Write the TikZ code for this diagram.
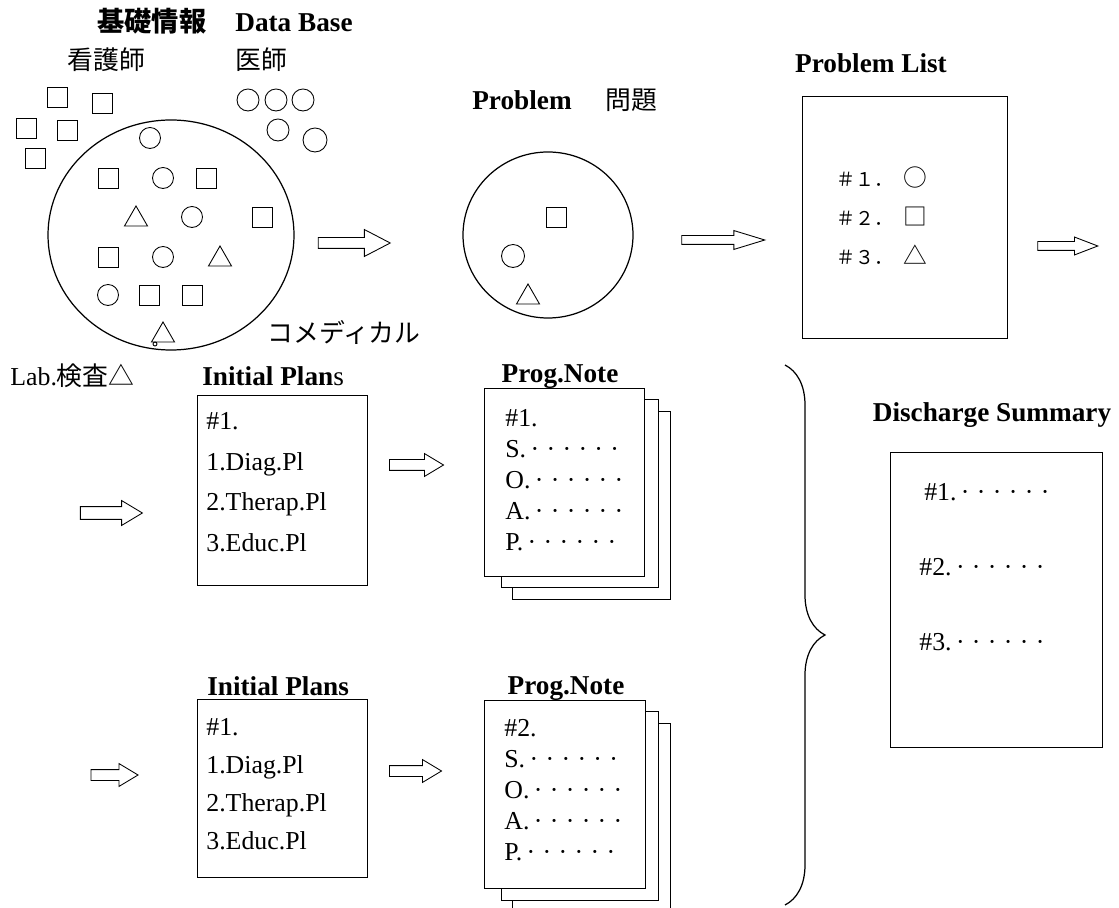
\documentclass[tikz,border=0pt]{standalone}
\usepackage{fontspec}
\setmainfont{Liberation Serif}
\newfontfamily\jp{Noto Sans CJK JP}
\usepackage{tikz}
\usetikzlibrary{positioning, shapes.arrows, decorations.pathreplacing}

\newcommand{\dotrow}{\kern2.5pt·\kern4.2pt·\kern4.2pt·\kern4.2pt·\kern4.2pt·\kern4.2pt·}
\newcommand{\plsym}[1]{\hspace{6pt}{\fontsize{13.5}{13.5}\selectfont #1}}

\begin{document}
\begin{tikzpicture}[
  x=0.02cm, y=-0.02cm,
  hd/.style={font=\bfseries\fontsize{15.5}{18}\selectfont, inner sep=0pt},
  lbl/.style={font=\fontsize{14.7}{18}\selectfont, inner sep=0pt},
  lines/.style={font=\fontsize{14.7}{#1}\selectfont, align=left, inner sep=0pt, anchor=north west},
  sheet/.style={draw, fill=white, line width=0.6pt, inner sep=0pt, anchor=north west},
  fwd/.style={single arrow, draw, line width=0.5pt, inner xsep=0pt, inner ysep=0.1cm,
    minimum width=0.44cm, single arrow head extend=0.12cm, single arrow tip angle=62},
]
  \path[use as bounding box, fill=white] (0,0) rectangle (1119,908);

  \node[hd, anchor=base west] (dbjp) at (97,32) {\jp 基礎情報};
  \node[hd, anchor=base west] (db) at (235,32) {Data Base};
  \node[lbl, anchor=base west] (nurse) at (67,70) {\jp 看護師};
  \node[lbl, anchor=base west] (doctor) at (235,70) {\jp 医師};
  \node[lbl, anchor=base west] (comed) at (267,343) {\jp コメディカル};
  \node[lbl, anchor=base west] (lab) at (10,386) {Lab.{\jp 検査△}};

  \draw[line width=0.7pt] (171,235) ellipse[x radius=123, y radius=115];
  \draw[line width=0.7pt] (548,235) ellipse[x radius=85, y radius=83];
  \begin{scope}[line width=0.5pt]
    \foreach \x/\y in {57/97, 102/103, 26/128, 67/130, 35/158, 108/178, 206/178,
        262/217, 108/257, 149/295, 192/295, 556/217}
      \draw (\x-10,\y-10) rectangle (\x+10,\y+10);
    \foreach \x/\y/\r in {248/100/11, 276/100/11, 303/100/11, 278/130/11, 315/140/12,
        150/138/10.5, 163/178/10.5, 192/217/10.5, 163/257/10.5, 108/295/10.5, 513/256/11.5}
      \draw (\x,\y) circle[radius=\r];
    \foreach \x/\y in {136/217, 220/257, 163/333, 528/295}
      \draw (\x,\y-11) -- (\x+11.5,\y+9) -- (\x-11.5,\y+9) -- cycle;
    \draw (155,344) circle[radius=2];
  \end{scope}

  \node[hd, anchor=base west] (prob) at (472,110) {Problem};
  \node[lbl, anchor=base west] (probjp) at (605,110) {\jp 問題};

  \node[hd, anchor=base] (pltitle) at (871,73) {Problem List};
  \node[sheet, minimum width=4.1cm, minimum height=4.84cm] (plbox) at (802,96) {};
  \node[font=\jp\fontsize{10.8}{22.4}\selectfont, align=left, inner sep=0pt, anchor=north west]
    (plitems) at (836,166) {＃１．\plsym{○}\\＃２．\plsym{□}\\＃３．\plsym{△}};

  \node[fwd, minimum height=1.44cm, minimum width=0.52cm, single arrow head extend=0.16cm,
    single arrow tip angle=55] (ar1) at (349,243) {};
  \node[fwd, minimum height=1.66cm, inner ysep=0.08cm, minimum width=0.36cm,
    single arrow head extend=0.1cm, single arrow tip angle=34] (ar2) at (716,240) {};
  \node[fwd, minimum height=1.2cm, inner ysep=0.08cm, minimum width=0.34cm,
    single arrow head extend=0.09cm, single arrow tip angle=42] (ar3) at (1062,246) {};
  \node[fwd, minimum height=1.24cm, inner ysep=0.12cm, minimum width=0.48cm] (ar4) at (106,513) {};
  \node[fwd, minimum height=1.08cm] (ar5) at (412,465) {};
  \node[fwd, minimum height=0.94cm] (ar6) at (110,775) {};
  \node[fwd, minimum height=1.04cm] (ar7) at (411,771) {};

  \node[hd, anchor=base west] (ip1title) at (202,386) {Initial Plan{\mdseries s}};
  \node[sheet, minimum width=3.4cm, minimum height=3.8cm] (ip1) at (197,395) {};
  \node[lines=23.2] (ip1txt) at (206,412) {\#1.\\1.Diag.Pl\\2.Therap.Pl\\3.Educ.Pl};

  \node[hd, anchor=base west] (ip2title) at (207,695) {Initial Plans};
  \node[sheet, minimum width=3.4cm, minimum height=3.56cm] (ip2) at (197,699) {};
  \node[lines=21.7] (ip2txt) at (206,718) {\#1.\\1.Diag.Pl\\2.Therap.Pl\\3.Educ.Pl};

  \node[sheet, minimum width=3.16cm, minimum height=3.76cm] (pn1c) at (512,411) {};
  \node[sheet, minimum width=3.14cm, minimum height=3.76cm] (pn1b) at (501,399) {};
  \node[sheet, minimum width=3.2cm, minimum height=3.76cm] (pn1a) at (484,388) {};
  \node[hd, anchor=base] (pn1title) at (560,383) {Prog.Note};
  \node[lines=17.6] (pn1txt) at (505,409) {\#1.\\S.\dotrow\\O.\dotrow\\A.\dotrow\\P.\dotrow};

  \node[sheet, minimum width=3.16cm, minimum height=3.76cm] (pn2c) at (512,723) {};
  \node[sheet, minimum width=3.14cm, minimum height=3.78cm] (pn2b) at (501,711) {};
  \node[sheet, minimum width=3.22cm, minimum height=3.76cm] (pn2a) at (484,700) {};
  \node[hd, anchor=base] (pn2title) at (566,694) {Prog.Note};
  \node[lines=17.6] (pn2txt) at (504,719) {\#2.\\S.\dotrow\\O.\dotrow\\A.\dotrow\\P.\dotrow};

  \draw[line width=0.7pt, decorate, decoration={brace, amplitude=0.8cm}] (785,365) -- (785,905);

  \node[hd, anchor=base] (dstitle) at (992,422) {Discharge Summary};
  \node[sheet, minimum width=4.24cm, minimum height=5.9cm] (dsbox) at (890,452) {};
  \node[lines=42.8] (dstxt) at (919,483) {\hspace*{2.8pt}\#1.\dotrow\\\#2.\dotrow\\\#3.\dotrow};
\end{tikzpicture}
\end{document}
